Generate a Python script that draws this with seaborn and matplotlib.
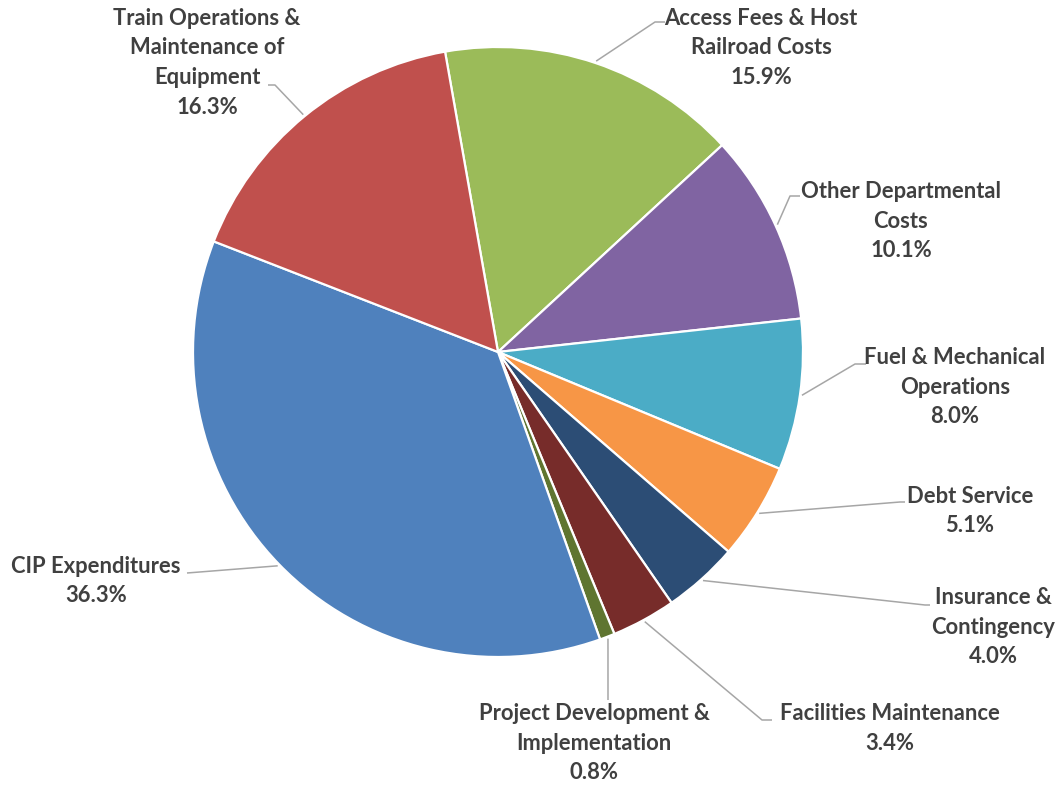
import numpy as np
import seaborn as sns
import matplotlib
matplotlib.use("Agg")
import matplotlib.pyplot as plt

# data, in the order the slices run clockwise from the top
categories = ["Access Fees & Host\nRailroad Costs", "Other Departmental\nCosts",
              "Fuel & Mechanical\nOperations", "Debt Service", "Insurance &\nContingency",
              "Facilities Maintenance", "Project Development &\nImplementation",
              "CIP Expenditures", "Train Operations &\nMaintenance of\nEquipment"]
shares = [15.9, 10.1, 8.0, 5.1, 4.0, 3.4, 0.8, 36.3, 16.3]
colors = ["#9BBB59", "#8064A2", "#4BACC6", "#F79646", "#2C4D75",
          "#772C2A", "#5F7530", "#4F81BD", "#C0504D"]

# label layout in pixel coords: text centre (x, y of first line), elbow of leader, end of leader
label_pos = [(761, 18), (901, 191), (955, 357), (970, 496), (993, 597),
             (890, 713), (594, 713), (96, 566), (207, 18)]
leader_pts = [[(655, 22), (665, 22)], [(790, 196), (800, 196)], [(855, 364), (866, 364)],
              [(900, 502), (905, 502)], [(925, 605), (930, 605)], [(762, 720), (772, 720)],
              [(608, 700)], [(187, 573)], [(275, 85), (268, 85)]]

W, H = 1061, 785
sns.set_theme(style="white")
plt.rcParams['font.family'] = ['Lato', 'DejaVu Sans']

fig = plt.figure(figsize=(W / 100, H / 100), dpi=100)
ax = fig.add_axes([0, 0, 1, 1])

cx, cy, r = 498, H - 352, 305
wedges, _ = ax.pie(shares, colors=colors, startangle=100, counterclock=False,
                   center=(cx, cy), radius=r,
                   wedgeprops=dict(edgecolor="white", linewidth=1.6))
ax.set_xlim(0, W)
ax.set_ylim(0, H)
ax.set_aspect("equal")
ax.axis("off")

txt_color = "#404040"
for w, name, share, (tx, ty), pts in zip(wedges, categories, shares, label_pos, leader_pts):
    mid = np.deg2rad((w.theta1 + w.theta2) / 2)
    x0 = cx + (r + 2) * np.cos(mid)
    y0 = cy + (r + 2) * np.sin(mid)
    xs = [x0] + [p[0] for p in pts]
    ys = [y0] + [H - p[1] for p in pts]
    ax.plot(xs, ys, color="#A6A6A6", lw=1.1, solid_capstyle="butt")
    # first line centred on ty
    ax.text(tx, H - ty + 10, f"{name}\n{share:.1f}%", ha="center", va="top",
            fontsize=15.8, fontweight="bold", color=txt_color, linespacing=1.5)

fig.savefig("out.png", dpi=100)
